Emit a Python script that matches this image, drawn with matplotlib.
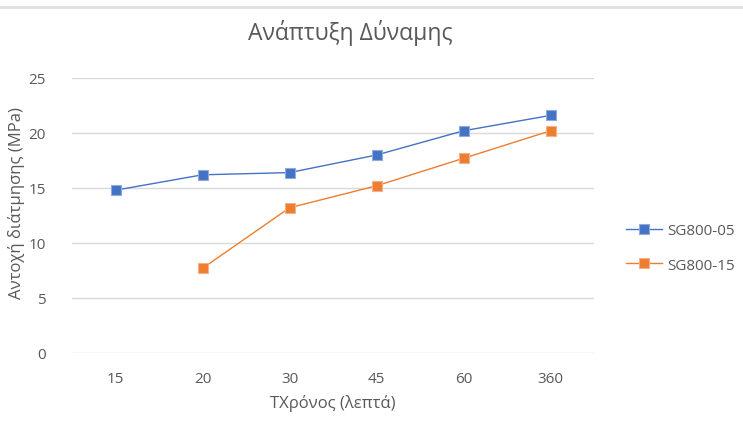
import numpy as np
import matplotlib.pyplot as plt
from matplotlib.lines import Line2D

plt.rcParams['font.family'] = ['Open Sans', 'DejaVu Sans']

# x axis is categorical (minutes)
categories = ["15", "20", "30", "45", "60", "360"]
sg800_05 = [14.8, 16.2, 16.4, 18.0, 20.2, 21.6]
sg800_15 = [np.nan, 7.7, 13.2, 15.2, 17.7, 20.2]
yticks = [0, 5, 10, 15, 20, 25]

BLUE = "#4472C4"
ORANGE = "#ED7D31"
GREY = "#595959"

fig = plt.figure(figsize=(7.43, 4.35), dpi=100)
ax = fig.add_axes([72 / 743, 1 - 354 / 435, 522 / 743, 275 / 435])

x = np.arange(len(categories))
ax.plot(x, sg800_05, color=BLUE, lw=1.0, marker="s", ms=7.5,
        mfc=BLUE, mec="#8FAADC", mew=0.8, label="SG800-05")
ax.plot(x, sg800_15, color=ORANGE, lw=1.0, marker="s", ms=7.5,
        mfc=ORANGE, mec="#F4B183", mew=0.8, label="SG800-15")

ax.set_xlim(-0.5, len(categories) - 0.5)
ax.set_ylim(0, 25)
ax.set_xticks(x)
ax.set_xticklabels(categories)
ax.set_yticks(yticks)
ax.grid(axis="y", color="#D9D9D9", lw=1.0)
ax.set_axisbelow(True)
for s in ax.spines.values():
    s.set_visible(False)
ax.tick_params(length=0, colors=GREY, labelsize=11)
ax.tick_params(axis="x", pad=13)
ax.tick_params(axis="y", pad=19)

ax.set_xlabel("ΤΧρόνος (λεπτά)", color=GREY, fontsize=12, labelpad=6)
fig.text(17 / 743, 1 - 203 / 435, "Αντοχή διάτμησης (MPa)", rotation=90,
         ha="center", va="center", color=GREY, fontsize=12)
fig.text(350 / 743, 1 - 33 / 435, "Ανάπτυξη Δύναμης", ha="center", va="center",
         color=GREY, fontsize=16.5)

fig.add_artist(Line2D([0, 1], [1 - 7.5 / 435] * 2, color="#E0E0E0", lw=2))

ax.legend(loc="center left", bbox_to_anchor=(612 / 743, 1 - 249 / 435),
          bbox_transform=fig.transFigure, frameon=False, fontsize=11,
          labelcolor=GREY, handlelength=2.4, handletextpad=0.3,
          labelspacing=1.25)

fig.savefig("out.png", dpi=100)
